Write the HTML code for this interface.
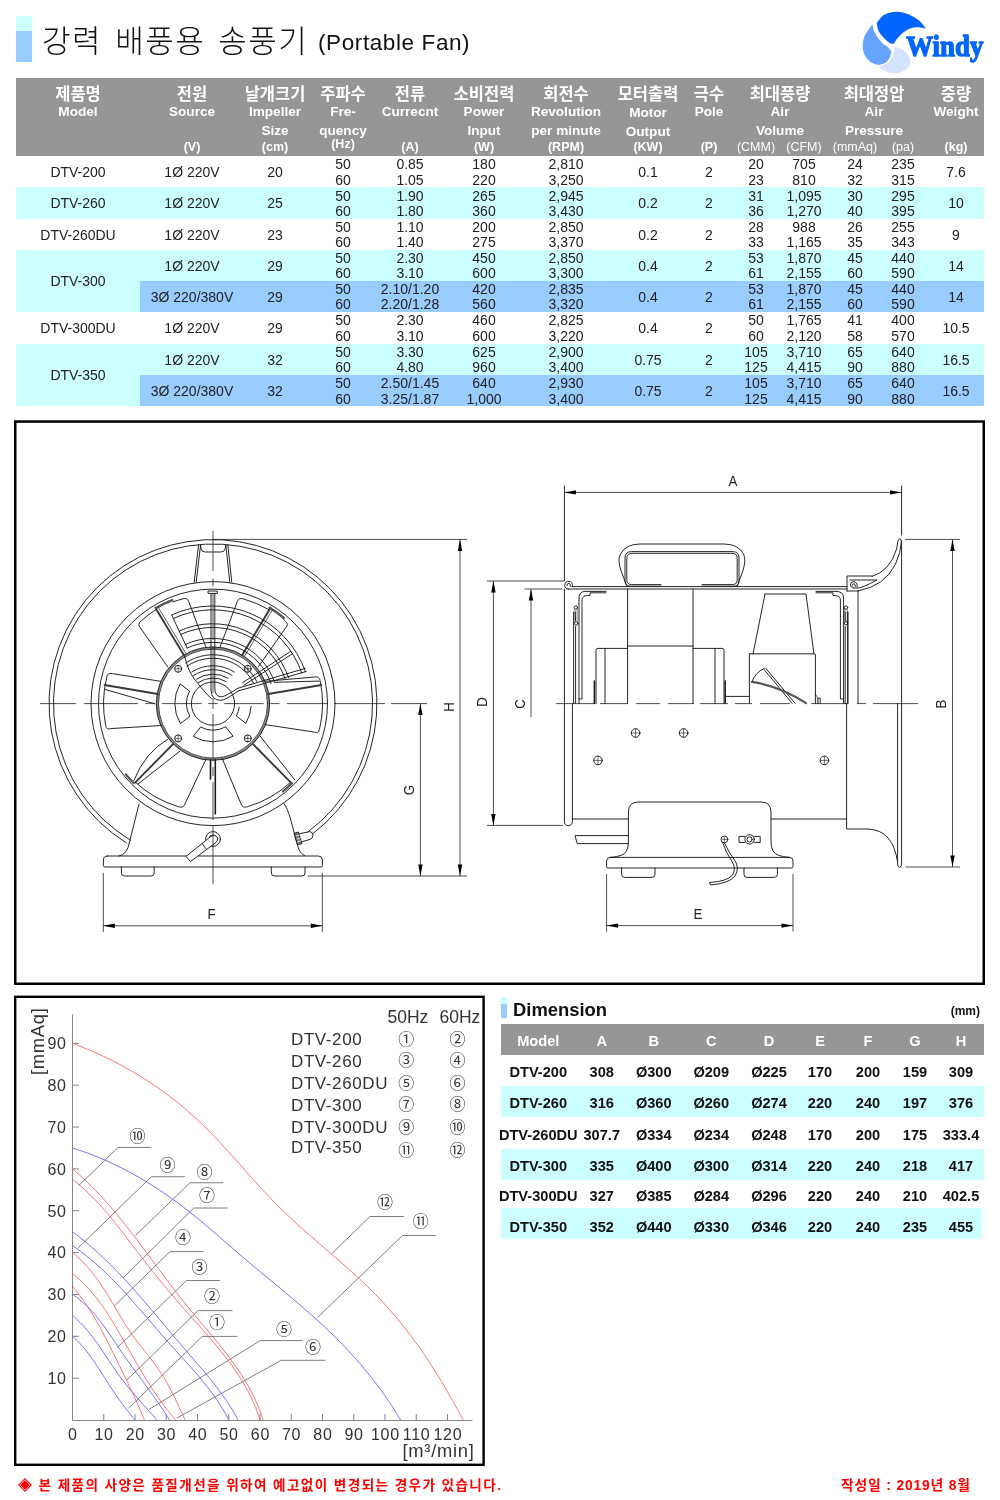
<!DOCTYPE html>
<html lang="ko"><head><meta charset="utf-8"><title>강력 배풍용 송풍기 (Portable Fan)</title>
<style>
html,body{margin:0;padding:0;background:#fff;}
body{width:1000px;height:1500px;overflow:hidden;}
#page{will-change:transform;position:relative;width:1000px;height:1500px;overflow:hidden;background:#fff;font-family:"Liberation Sans","Noto Sans CJK KR",sans-serif;color:#222;}
.abs{position:absolute;}
.c{position:absolute;text-align:center;white-space:nowrap;}
.t1 .c{font-size:14px;line-height:16px;height:16px;color:#222;}
.t1 .hd{color:#fff;font-weight:bold;}
.t1 .hk{font-size:16.5px;line-height:18px;height:18px;font-weight:700;}
.t1 .he{font-size:13.6px;line-height:15px;height:15px;}
.t1 .hu{font-size:12.5px;line-height:14px;height:14px;}
.t1 .hun{font-weight:normal;font-size:12.5px;}
.dt .c{font-size:14.6px;line-height:16px;height:16px;font-weight:bold;color:#111;}
.dt .h{color:#fff;}
svg text{font-family:"Liberation Sans","Noto Sans CJK KR",sans-serif;}

</style></head>
<body>
<div id="page">
<div class="abs" style="left:16px;top:16px;width:16px;height:15px;background:#ccffff"></div>
<div class="abs" style="left:16px;top:31px;width:16px;height:31px;background:#99ccff"></div>
<div class="abs" id="ttl" style="left:42px;top:20px;height:44px;line-height:44px;font-size:31px;font-weight:300;color:#111;white-space:nowrap;letter-spacing:1.5px;word-spacing:3px">강력 배풍용 송풍기</div>
<div class="abs" id="ttl2" style="left:318px;top:28px;height:30px;line-height:30px;font-size:22.5px;color:#111;white-space:nowrap;letter-spacing:0.6px">(Portable Fan)</div>
<svg class="abs" style="left:855px;top:5px" width="135" height="75" viewBox="855 5 135 75"><path d="M895.6 47.0 C895.6 47.0 900.5 48.4 902.6 49.8 C904.7 51.2 906.9 53.5 908.2 55.4 C909.5 57.3 910.2 59.1 910.3 61.0 C910.4 62.9 909.9 65.0 908.9 66.6 C907.9 68.2 906.0 69.7 904.0 70.8 C902.0 71.9 899.6 73.1 897.0 73.3 C894.4 73.5 891.2 73.0 888.6 72.2 C886.0 71.4 883.2 69.6 881.6 68.7 C880.0 67.8 878.8 66.6 878.8 66.6 C878.8 66.6 883.2 65.4 885.1 64.5 C887.0 63.6 888.7 62.5 890.0 61.0 C891.3 59.5 892.4 57.3 893.1 55.4 C893.8 53.5 893.8 51.2 894.2 49.8 C894.6 48.4 895.6 47.0 895.6 47.0Z" fill="#d3e2ff"/><path d="M873.2 22.5 C873.2 22.5 869.9 26.4 868.3 28.8 C866.7 31.2 864.4 34.2 863.4 37.2 C862.4 40.2 861.9 44.0 862.0 47.0 C862.1 50.0 862.9 52.9 864.1 55.4 C865.3 57.9 867.0 60.1 869.0 61.7 C871.0 63.3 873.7 64.7 876.0 65.2 C878.3 65.7 881.0 65.1 883.0 64.5 C885.0 63.9 886.6 63.0 887.9 61.7 C889.2 60.4 890.0 58.5 890.7 56.8 C891.4 55.0 892.1 51.2 892.1 51.2 C892.1 51.2 890.1 48.4 888.6 47.0 C887.1 45.6 884.9 44.7 883.0 42.8 C881.1 40.9 878.9 38.1 877.4 35.8 C875.9 33.5 874.6 31.0 873.9 28.8 C873.2 26.6 873.2 22.5 873.2 22.5Z" fill="#66a3ff" stroke="#fff" stroke-width="1.3"/><path d="M876.0 23.2 C876.0 23.2 880.2 16.8 883.0 14.8 C885.8 12.8 889.3 11.8 892.8 11.3 C896.3 10.8 900.5 11.2 904.0 12.0 C907.5 12.8 910.8 14.4 913.8 16.2 C916.8 17.9 920.0 20.2 922.2 22.5 C924.4 24.8 927.1 30.2 927.1 30.2 C927.1 30.2 923.0 28.5 920.8 28.1 C918.6 27.8 916.1 27.6 913.8 28.1 C911.5 28.6 908.9 29.7 906.8 30.9 C904.7 32.1 902.8 33.6 901.2 35.1 C899.6 36.6 898.2 38.4 897.0 40.0 C895.8 41.6 894.2 44.9 894.2 44.9 C894.2 44.9 891.2 44.7 889.3 43.5 C887.4 42.3 884.9 39.9 883.0 37.9 C881.1 35.9 879.3 34.1 878.1 31.6 C876.9 29.2 876.0 23.2 876.0 23.2Z" fill="#0066ff" stroke="#fff" stroke-width="1.3"/><circle cx="892.8" cy="45.8" r="2.4" fill="#fff"/><text x="906.3" y="56.2" style="font-family:'Liberation Serif',serif" font-weight="bold" font-size="29.5" fill="#0066ff" stroke="#0066ff" stroke-width="1.3" stroke-linejoin="round" textLength="77" lengthAdjust="spacingAndGlyphs">Windy</text></svg>
<div class="t1">
<div class="abs" style="left:16px;top:78px;width:968px;height:78px;background:#969696"></div>
<div class="abs" style="left:16px;top:187.25px;width:968px;height:31.25px;background:#ccffff"></div>
<div class="abs" style="left:16px;top:249.5px;width:968px;height:62.0px;background:#ccffff"></div>
<div class="abs" style="left:140px;top:280.5px;width:844px;height:31.0px;background:#99ccff"></div>
<div class="abs" style="left:16px;top:343.5px;width:968px;height:62.5px;background:#ccffff"></div>
<div class="abs" style="left:140px;top:375px;width:844px;height:31px;background:#99ccff"></div>
<div class="c hd hk" style="left:18.0px;top:84.50px;width:120px;">제품명</div>
<div class="c hd he" style="left:18.0px;top:104.00px;width:120px;">Model</div>
<div class="c hd hk" style="left:132.0px;top:84.50px;width:120px;">전원</div>
<div class="c hd he" style="left:132.0px;top:104.00px;width:120px;">Source</div>
<div class="c hd hu" style="left:132.0px;top:139.50px;width:120px;">(V)</div>
<div class="c hd hk" style="left:215.0px;top:84.50px;width:120px;">날개크기</div>
<div class="c hd he" style="left:215.0px;top:104.00px;width:120px;">Impeller</div>
<div class="c hd he" style="left:215.0px;top:122.50px;width:120px;">Size</div>
<div class="c hd hu" style="left:215.0px;top:140.00px;width:120px;">(cm)</div>
<div class="c hd hk" style="left:283.0px;top:84.50px;width:120px;">주파수</div>
<div class="c hd he" style="left:283.0px;top:104.00px;width:120px;">Fre-</div>
<div class="c hd he" style="left:283.0px;top:122.50px;width:120px;">quency</div>
<div class="c hd hu" style="left:283.0px;top:137.00px;width:120px;">(Hz)</div>
<div class="c hd hk" style="left:350.0px;top:84.50px;width:120px;">전류</div>
<div class="c hd he" style="left:350.0px;top:104.00px;width:120px;">Currecnt</div>
<div class="c hd hu" style="left:350.0px;top:139.50px;width:120px;">(A)</div>
<div class="c hd hk" style="left:424.0px;top:84.50px;width:120px;">소비전력</div>
<div class="c hd he" style="left:424.0px;top:104.00px;width:120px;">Power</div>
<div class="c hd he" style="left:424.0px;top:122.50px;width:120px;">Input</div>
<div class="c hd hu" style="left:424.0px;top:139.50px;width:120px;">(W)</div>
<div class="c hd hk" style="left:506.0px;top:84.50px;width:120px;">회전수</div>
<div class="c hd he" style="left:506.0px;top:104.00px;width:120px;">Revolution</div>
<div class="c hd he" style="left:506.0px;top:122.50px;width:120px;">per minute</div>
<div class="c hd hu" style="left:506.0px;top:139.50px;width:120px;">(RPM)</div>
<div class="c hd hk" style="left:588.0px;top:84.50px;width:120px;">모터출력</div>
<div class="c hd he" style="left:588.0px;top:105.00px;width:120px;">Motor</div>
<div class="c hd he" style="left:588.0px;top:123.50px;width:120px;">Output</div>
<div class="c hd hu" style="left:588.0px;top:139.50px;width:120px;">(KW)</div>
<div class="c hd hk" style="left:649.0px;top:84.50px;width:120px;">극수</div>
<div class="c hd he" style="left:649.0px;top:104.00px;width:120px;">Pole</div>
<div class="c hd hu" style="left:649.0px;top:139.50px;width:120px;">(P)</div>
<div class="c hd hk" style="left:896.0px;top:84.50px;width:120px;">중량</div>
<div class="c hd he" style="left:896.0px;top:104.00px;width:120px;">Weight</div>
<div class="c hd hu" style="left:896.0px;top:139.50px;width:120px;">(kg)</div>
<div class="c hd hk" style="left:720.0px;top:84.50px;width:120px;">최대풍량</div>
<div class="c hd he" style="left:720.0px;top:104.00px;width:120px;">Air</div>
<div class="c hd he" style="left:720.0px;top:122.50px;width:120px;">Volume</div>
<div class="c hd hk" style="left:814.0px;top:84.50px;width:120px;">최대정압</div>
<div class="c hd he" style="left:814.0px;top:104.00px;width:120px;">Air</div>
<div class="c hd he" style="left:814.0px;top:122.50px;width:120px;">Pressure</div>
<div class="c hd hu hun" style="left:696.0px;top:140.00px;width:120px;">(CMM)</div>
<div class="c hd hu hun" style="left:744.0px;top:140.00px;width:120px;">(CFM)</div>
<div class="c hd hu hun" style="left:795.0px;top:140.00px;width:120px;">(mmAq)</div>
<div class="c hd hu hun" style="left:843.0px;top:140.00px;width:120px;">(pa)</div>
<div class="c " style="left:18.0px;top:164.12px;width:120px;">DTV-200</div>
<div class="c " style="left:132.0px;top:164.12px;width:120px;">1Ø 220V</div>
<div class="c " style="left:215.0px;top:164.12px;width:120px;">20</div>
<div class="c " style="left:283.0px;top:156.32px;width:120px;">50</div>
<div class="c " style="left:283.0px;top:171.72px;width:120px;">60</div>
<div class="c " style="left:350.0px;top:156.32px;width:120px;">0.85</div>
<div class="c " style="left:350.0px;top:171.72px;width:120px;">1.05</div>
<div class="c " style="left:424.0px;top:156.32px;width:120px;">180</div>
<div class="c " style="left:424.0px;top:171.72px;width:120px;">220</div>
<div class="c " style="left:506.0px;top:156.32px;width:120px;">2,810</div>
<div class="c " style="left:506.0px;top:171.72px;width:120px;">3,250</div>
<div class="c " style="left:588.0px;top:164.12px;width:120px;">0.1</div>
<div class="c " style="left:649.0px;top:164.12px;width:120px;">2</div>
<div class="c " style="left:696.0px;top:156.32px;width:120px;">20</div>
<div class="c " style="left:696.0px;top:171.72px;width:120px;">23</div>
<div class="c " style="left:744.0px;top:156.32px;width:120px;">705</div>
<div class="c " style="left:744.0px;top:171.72px;width:120px;">810</div>
<div class="c " style="left:795.0px;top:156.32px;width:120px;">24</div>
<div class="c " style="left:795.0px;top:171.72px;width:120px;">32</div>
<div class="c " style="left:843.0px;top:156.32px;width:120px;">235</div>
<div class="c " style="left:843.0px;top:171.72px;width:120px;">315</div>
<div class="c " style="left:896.0px;top:164.12px;width:120px;">7.6</div>
<div class="c " style="left:18.0px;top:195.38px;width:120px;">DTV-260</div>
<div class="c " style="left:132.0px;top:195.38px;width:120px;">1Ø 220V</div>
<div class="c " style="left:215.0px;top:195.38px;width:120px;">25</div>
<div class="c " style="left:283.0px;top:187.57px;width:120px;">50</div>
<div class="c " style="left:283.0px;top:202.97px;width:120px;">60</div>
<div class="c " style="left:350.0px;top:187.57px;width:120px;">1.90</div>
<div class="c " style="left:350.0px;top:202.97px;width:120px;">1.80</div>
<div class="c " style="left:424.0px;top:187.57px;width:120px;">265</div>
<div class="c " style="left:424.0px;top:202.97px;width:120px;">360</div>
<div class="c " style="left:506.0px;top:187.57px;width:120px;">2,945</div>
<div class="c " style="left:506.0px;top:202.97px;width:120px;">3,430</div>
<div class="c " style="left:588.0px;top:195.38px;width:120px;">0.2</div>
<div class="c " style="left:649.0px;top:195.38px;width:120px;">2</div>
<div class="c " style="left:696.0px;top:187.57px;width:120px;">31</div>
<div class="c " style="left:696.0px;top:202.97px;width:120px;">36</div>
<div class="c " style="left:744.0px;top:187.57px;width:120px;">1,095</div>
<div class="c " style="left:744.0px;top:202.97px;width:120px;">1,270</div>
<div class="c " style="left:795.0px;top:187.57px;width:120px;">30</div>
<div class="c " style="left:795.0px;top:202.97px;width:120px;">40</div>
<div class="c " style="left:843.0px;top:187.57px;width:120px;">295</div>
<div class="c " style="left:843.0px;top:202.97px;width:120px;">395</div>
<div class="c " style="left:896.0px;top:195.38px;width:120px;">10</div>
<div class="c " style="left:18.0px;top:226.50px;width:120px;">DTV-260DU</div>
<div class="c " style="left:132.0px;top:226.50px;width:120px;">1Ø 220V</div>
<div class="c " style="left:215.0px;top:226.50px;width:120px;">23</div>
<div class="c " style="left:283.0px;top:218.70px;width:120px;">50</div>
<div class="c " style="left:283.0px;top:234.10px;width:120px;">60</div>
<div class="c " style="left:350.0px;top:218.70px;width:120px;">1.10</div>
<div class="c " style="left:350.0px;top:234.10px;width:120px;">1.40</div>
<div class="c " style="left:424.0px;top:218.70px;width:120px;">200</div>
<div class="c " style="left:424.0px;top:234.10px;width:120px;">275</div>
<div class="c " style="left:506.0px;top:218.70px;width:120px;">2,850</div>
<div class="c " style="left:506.0px;top:234.10px;width:120px;">3,370</div>
<div class="c " style="left:588.0px;top:226.50px;width:120px;">0.2</div>
<div class="c " style="left:649.0px;top:226.50px;width:120px;">2</div>
<div class="c " style="left:696.0px;top:218.70px;width:120px;">28</div>
<div class="c " style="left:696.0px;top:234.10px;width:120px;">33</div>
<div class="c " style="left:744.0px;top:218.70px;width:120px;">988</div>
<div class="c " style="left:744.0px;top:234.10px;width:120px;">1,165</div>
<div class="c " style="left:795.0px;top:218.70px;width:120px;">26</div>
<div class="c " style="left:795.0px;top:234.10px;width:120px;">35</div>
<div class="c " style="left:843.0px;top:218.70px;width:120px;">255</div>
<div class="c " style="left:843.0px;top:234.10px;width:120px;">343</div>
<div class="c " style="left:896.0px;top:226.50px;width:120px;">9</div>
<div class="c " style="left:18.0px;top:273.00px;width:120px;">DTV-300</div>
<div class="c " style="left:132.0px;top:257.50px;width:120px;">1Ø 220V</div>
<div class="c " style="left:215.0px;top:257.50px;width:120px;">29</div>
<div class="c " style="left:283.0px;top:249.70px;width:120px;">50</div>
<div class="c " style="left:283.0px;top:265.10px;width:120px;">60</div>
<div class="c " style="left:350.0px;top:249.70px;width:120px;">2.30</div>
<div class="c " style="left:350.0px;top:265.10px;width:120px;">3.10</div>
<div class="c " style="left:424.0px;top:249.70px;width:120px;">450</div>
<div class="c " style="left:424.0px;top:265.10px;width:120px;">600</div>
<div class="c " style="left:506.0px;top:249.70px;width:120px;">2,850</div>
<div class="c " style="left:506.0px;top:265.10px;width:120px;">3,300</div>
<div class="c " style="left:588.0px;top:257.50px;width:120px;">0.4</div>
<div class="c " style="left:649.0px;top:257.50px;width:120px;">2</div>
<div class="c " style="left:696.0px;top:249.70px;width:120px;">53</div>
<div class="c " style="left:696.0px;top:265.10px;width:120px;">61</div>
<div class="c " style="left:744.0px;top:249.70px;width:120px;">1,870</div>
<div class="c " style="left:744.0px;top:265.10px;width:120px;">2,155</div>
<div class="c " style="left:795.0px;top:249.70px;width:120px;">45</div>
<div class="c " style="left:795.0px;top:265.10px;width:120px;">60</div>
<div class="c " style="left:843.0px;top:249.70px;width:120px;">440</div>
<div class="c " style="left:843.0px;top:265.10px;width:120px;">590</div>
<div class="c " style="left:896.0px;top:257.50px;width:120px;">14</div>
<div class="c " style="left:132.0px;top:288.50px;width:120px;">3Ø 220/380V</div>
<div class="c " style="left:215.0px;top:288.50px;width:120px;">29</div>
<div class="c " style="left:283.0px;top:280.70px;width:120px;">50</div>
<div class="c " style="left:283.0px;top:296.10px;width:120px;">60</div>
<div class="c " style="left:350.0px;top:280.70px;width:120px;">2.10/1.20</div>
<div class="c " style="left:350.0px;top:296.10px;width:120px;">2.20/1.28</div>
<div class="c " style="left:424.0px;top:280.70px;width:120px;">420</div>
<div class="c " style="left:424.0px;top:296.10px;width:120px;">560</div>
<div class="c " style="left:506.0px;top:280.70px;width:120px;">2,835</div>
<div class="c " style="left:506.0px;top:296.10px;width:120px;">3,320</div>
<div class="c " style="left:588.0px;top:288.50px;width:120px;">0.4</div>
<div class="c " style="left:649.0px;top:288.50px;width:120px;">2</div>
<div class="c " style="left:696.0px;top:280.70px;width:120px;">53</div>
<div class="c " style="left:696.0px;top:296.10px;width:120px;">61</div>
<div class="c " style="left:744.0px;top:280.70px;width:120px;">1,870</div>
<div class="c " style="left:744.0px;top:296.10px;width:120px;">2,155</div>
<div class="c " style="left:795.0px;top:280.70px;width:120px;">45</div>
<div class="c " style="left:795.0px;top:296.10px;width:120px;">60</div>
<div class="c " style="left:843.0px;top:280.70px;width:120px;">440</div>
<div class="c " style="left:843.0px;top:296.10px;width:120px;">590</div>
<div class="c " style="left:896.0px;top:288.50px;width:120px;">14</div>
<div class="c " style="left:18.0px;top:320.00px;width:120px;">DTV-300DU</div>
<div class="c " style="left:132.0px;top:320.00px;width:120px;">1Ø 220V</div>
<div class="c " style="left:215.0px;top:320.00px;width:120px;">29</div>
<div class="c " style="left:283.0px;top:312.20px;width:120px;">50</div>
<div class="c " style="left:283.0px;top:327.60px;width:120px;">60</div>
<div class="c " style="left:350.0px;top:312.20px;width:120px;">2.30</div>
<div class="c " style="left:350.0px;top:327.60px;width:120px;">3.10</div>
<div class="c " style="left:424.0px;top:312.20px;width:120px;">460</div>
<div class="c " style="left:424.0px;top:327.60px;width:120px;">600</div>
<div class="c " style="left:506.0px;top:312.20px;width:120px;">2,825</div>
<div class="c " style="left:506.0px;top:327.60px;width:120px;">3,220</div>
<div class="c " style="left:588.0px;top:320.00px;width:120px;">0.4</div>
<div class="c " style="left:649.0px;top:320.00px;width:120px;">2</div>
<div class="c " style="left:696.0px;top:312.20px;width:120px;">50</div>
<div class="c " style="left:696.0px;top:327.60px;width:120px;">60</div>
<div class="c " style="left:744.0px;top:312.20px;width:120px;">1,765</div>
<div class="c " style="left:744.0px;top:327.60px;width:120px;">2,120</div>
<div class="c " style="left:795.0px;top:312.20px;width:120px;">41</div>
<div class="c " style="left:795.0px;top:327.60px;width:120px;">58</div>
<div class="c " style="left:843.0px;top:312.20px;width:120px;">400</div>
<div class="c " style="left:843.0px;top:327.60px;width:120px;">570</div>
<div class="c " style="left:896.0px;top:320.00px;width:120px;">10.5</div>
<div class="c " style="left:18.0px;top:367.25px;width:120px;">DTV-350</div>
<div class="c " style="left:132.0px;top:351.75px;width:120px;">1Ø 220V</div>
<div class="c " style="left:215.0px;top:351.75px;width:120px;">32</div>
<div class="c " style="left:283.0px;top:343.95px;width:120px;">50</div>
<div class="c " style="left:283.0px;top:359.35px;width:120px;">60</div>
<div class="c " style="left:350.0px;top:343.95px;width:120px;">3.30</div>
<div class="c " style="left:350.0px;top:359.35px;width:120px;">4.80</div>
<div class="c " style="left:424.0px;top:343.95px;width:120px;">625</div>
<div class="c " style="left:424.0px;top:359.35px;width:120px;">960</div>
<div class="c " style="left:506.0px;top:343.95px;width:120px;">2,900</div>
<div class="c " style="left:506.0px;top:359.35px;width:120px;">3,400</div>
<div class="c " style="left:588.0px;top:351.75px;width:120px;">0.75</div>
<div class="c " style="left:649.0px;top:351.75px;width:120px;">2</div>
<div class="c " style="left:696.0px;top:343.95px;width:120px;">105</div>
<div class="c " style="left:696.0px;top:359.35px;width:120px;">125</div>
<div class="c " style="left:744.0px;top:343.95px;width:120px;">3,710</div>
<div class="c " style="left:744.0px;top:359.35px;width:120px;">4,415</div>
<div class="c " style="left:795.0px;top:343.95px;width:120px;">65</div>
<div class="c " style="left:795.0px;top:359.35px;width:120px;">90</div>
<div class="c " style="left:843.0px;top:343.95px;width:120px;">640</div>
<div class="c " style="left:843.0px;top:359.35px;width:120px;">880</div>
<div class="c " style="left:896.0px;top:351.75px;width:120px;">16.5</div>
<div class="c " style="left:132.0px;top:383.00px;width:120px;">3Ø 220/380V</div>
<div class="c " style="left:215.0px;top:383.00px;width:120px;">32</div>
<div class="c " style="left:283.0px;top:375.20px;width:120px;">50</div>
<div class="c " style="left:283.0px;top:390.60px;width:120px;">60</div>
<div class="c " style="left:350.0px;top:375.20px;width:120px;">2.50/1.45</div>
<div class="c " style="left:350.0px;top:390.60px;width:120px;">3.25/1.87</div>
<div class="c " style="left:424.0px;top:375.20px;width:120px;">640</div>
<div class="c " style="left:424.0px;top:390.60px;width:120px;">1,000</div>
<div class="c " style="left:506.0px;top:375.20px;width:120px;">2,930</div>
<div class="c " style="left:506.0px;top:390.60px;width:120px;">3,400</div>
<div class="c " style="left:588.0px;top:383.00px;width:120px;">0.75</div>
<div class="c " style="left:649.0px;top:383.00px;width:120px;">2</div>
<div class="c " style="left:696.0px;top:375.20px;width:120px;">105</div>
<div class="c " style="left:696.0px;top:390.60px;width:120px;">125</div>
<div class="c " style="left:744.0px;top:375.20px;width:120px;">3,710</div>
<div class="c " style="left:744.0px;top:390.60px;width:120px;">4,415</div>
<div class="c " style="left:795.0px;top:375.20px;width:120px;">65</div>
<div class="c " style="left:795.0px;top:390.60px;width:120px;">90</div>
<div class="c " style="left:843.0px;top:375.20px;width:120px;">640</div>
<div class="c " style="left:843.0px;top:390.60px;width:120px;">880</div>
<div class="c " style="left:896.0px;top:383.00px;width:120px;">16.5</div>
</div>
<svg class="abs" style="left:0;top:415px" width="1000" height="575" viewBox="0 415 1000 575">
<rect x="15.25" y="421.55" width="968.5" height="562.2" fill="none" stroke="#000" stroke-width="2.5"/>
<g fill="none" stroke="#1a1a1a" stroke-width="0.95" stroke-linecap="round" stroke-linejoin="round">
<path d="M126.1 842.7 A164 164 0 1 1 313.1 833.5"/>
<path d="M130.8 840.4 A159.6 159.6 0 1 1 307.7 832.1"/>
<path d="M294.4 833.2 L298.4 832 L302 843.6 L298 844.8 Z" fill="#777" stroke-width="0.9"/>
<path d="M295.3 836.2 L299.3 835 M296.3 839.2 L300.3 838 M297.2 842 L301.2 840.8" stroke="#fff" stroke-width="0.8"/>
<path d="M299 833.9 L309.5 831.6 Q312.6 831.6 313 835.2 Q313.2 838.4 310 839.4 L301.3 842"/>
<circle cx="213.0" cy="703.6" r="122"/><circle cx="213.0" cy="703.6" r="114.5"/>
<path d="M198.6 544.6 L194.2 582.2 M200.6 544.8 L196.2 582 M225.8 544.8 L229.8 582 M227.8 544.6 L231.8 582.2 M200.6 544.8 L201 548.6 Q201.5 552 205.2 552 H221 Q224.6 552 225.2 548.6 L225.8 544.8"/>
<circle cx="213.0" cy="703.6" r="55.6" stroke-width="2.2" stroke="#8a8a8a"/><circle cx="213.0" cy="703.6" r="56.7" stroke-width="0.9"/><circle cx="213.0" cy="703.6" r="54.5" stroke-width="0.8"/>
<circle cx="213.0" cy="703.6" r="21.6"/>
<path d="M180.2 723.3 A38.3 38.3 0 0 1 180.2 683.9 L189.6 691.2 A26.5 26.5 0 0 0 189.6 716.0 Z M232.7 736.4 A38.3 38.3 0 0 1 193.3 736.4 L200.6 727.0 A26.5 26.5 0 0 0 225.4 727.0 Z"/>
<path d="M251.2 706.3 A38.3 38.3 0 0 1 245.8 723.3 L236.4 716.0 A26.5 26.5 0 0 0 239.2 707.3"/>
<circle cx="247.8" cy="738.4" r="3.5"/><path d="M244.3 738.4 h7 M247.8 734.9 v7" stroke-width="0.6"/>
<circle cx="178.2" cy="738.4" r="3.5"/><path d="M174.7 738.4 h7 M178.2 734.9 v7" stroke-width="0.6"/>
<circle cx="178.2" cy="668.8" r="3.5"/><path d="M174.7 668.8 h7 M178.2 665.3 v7" stroke-width="0.6"/>
<circle cx="247.8" cy="668.8" r="3.5"/><path d="M244.3 668.8 h7 M247.8 665.3 v7" stroke-width="0.6"/>
<path d="M160.5 681.3 L112.4 673.6 Q107.5 672.4 106.8 677.1 A109.5 109.5 0 0 0 105.7 725.4 Q106.3 730.2 110.5 728.6 L161.5 725.5"/>
<path d="M157.8 694.1 L104.6 684.9" stroke-width="2.0" stroke="#3a3a3a"/>
<path d="M104.9 689.4 L155.0 703.8"/>
<path d="M173.0 744.2 L135.1 782.6" stroke-width="1.9" stroke="#3a3a3a"/>
<path d="M168.0 739.0 Q144.9 752.5 133.8 780.6"/>
<path d="M138.0 784.0 L180.0 751.1"/>
<path d="M135.4 782.3 A109 109 0 0 0 178.5 806.7 Q183.3 808.5 185.0 803.8 L206.2 758.8"/>
<path d="M133.6 783.0 A112.3 112.3 0 0 1 125.7 774.3" stroke-width="2.2" stroke="#555"/>
<path d="M183.8 655.1 L155.4 607.8" stroke-width="1.9" stroke="#3a3a3a"/>
<path d="M156.6 607.8 A111.2 111.2 0 0 1 172.2 600.1" stroke-width="2.4" stroke="#555"/>
<path d="M186.1 653.8 L157.9 606.7" stroke-width="0.7"/>
<path d="M155.7 609.7 A110 110 0 0 0 141.2 621.0 Q137.0 624.1 140.3 627.8 L167.9 667.1"/>
<path d="M172.9 601.9 A109 109 0 0 1 182.0 599.1 Q187.4 597.1 188.7 601.5 L206.1 647.5"/>
<path d="M265.5 681.3 L314.6 677.0 Q319.4 675.9 320.1 680.6 A109.5 109.5 0 0 1 319.5 729.2 Q318.7 733.9 314.6 732.1 L264.9 724.6"/>
<path d="M268.2 694.1 L321.4 684.9" stroke-width="2.0" stroke="#3a3a3a"/>
<path d="M274.8 682.3 L319.0 681.1"/>
<path d="M253.0 744.2 L290.9 782.6" stroke-width="1.9" stroke="#3a3a3a"/>
<path d="M260.2 736.2 L294.9 780.0"/>
<path d="M290.6 782.3 A109 109 0 0 1 247.5 806.7 Q242.7 808.5 241.0 803.8 L222.2 758.4"/>
<path d="M282.9 791.5 A112.3 112.3 0 0 0 292.1 783.3" stroke-width="2.2" stroke="#555"/>
<path d="M242.2 655.1 L270.6 607.8" stroke-width="1.9" stroke="#3a3a3a"/>
<path d="M283.7 617.8 A111.2 111.2 0 0 0 269.4 607.8" stroke-width="2.4" stroke="#555"/>
<path d="M244.3 656.5 L272.7 609.5" stroke-width="0.7"/>
<path d="M283.0 618.7 A110 110 0 0 1 285.8 621.9 Q289.0 624.1 285.7 627.8 L258.1 667.1"/>
<path d="M268.6 609.5 A109 109 0 0 0 244.0 599.1 Q238.6 597.1 237.3 601.5 L219.9 647.5"/>
<path d="M210.5 760 V779" stroke-width="1.6"/><path d="M215.3 760 V814" stroke-width="1.6"/>
<path d="M171.7 615.0 A97.8 97.8 0 0 1 305.5 671.8"/><path d="M173.3 618.5 A93.9 93.9 0 0 1 301.8 673.0"/>
<path d="M179.2 631.1 A80 80 0 0 1 288.6 677.6"/><path d="M180.8 634.4 A76.3 76.3 0 0 1 285.1 678.8"/>
<path d="M185.4 644.4 A65.3 65.3 0 0 1 274.7 682.3"/><path d="M187.1 648.0 A61.4 61.4 0 0 1 271.1 683.6"/>
<path d="M185.6 663.0 A49 49 0 0 1 256.7 681.4"/><path d="M186.9 666.3 A45.5 45.5 0 0 1 253.5 682.9"/>
<path d="M191.8 672.1 A38 38 0 0 1 234.2 672.1"/><path d="M193.5 675.7 A34 34 0 0 1 232.0 675.4"/>
<path d="M196.5 679.1 A29.5 29.5 0 0 1 227.8 678.1"/><path d="M198.3 682.6 A25.6 25.6 0 0 1 225.8 681.4"/>
<path d="M187.1 648.0 L171.7 615.0"/>
<path d="M242.4 682.8 L290.6 651.5 M243.9 685.2 L292.2 653.9"/>
<path d="M184.2 655.6 L188.2 667.8 Q190.5 674 193.8 678.2 Q199 685 203.4 690.2 Q208 696 211.5 698.5"/>
<path d="M208.4 591 h9 v2.4 h-9 z"/>
<path d="M211 593.4 V690 Q211.4 700.5 221 700.3 Q226 700 238 691 L306.2 671.5 M214.8 593.4 V688 Q214.8 697 221.5 696.8 Q225.5 696.5 237.9 688.2 L305.2 668.4"/>
<path d="M139 804 L129.5 842 Q127.5 854.5 119 856"/>
<path d="M284 803.6 Q287.5 808 290.8 820 L297.6 845.6 Q299.6 853.5 304.5 855.6"/>
<path d="M107.5 856 H318.5 Q322.4 856 322.4 860 V865.5 Q322.4 867 321 867 H105 Q103.4 867 103.4 865.5 V860 Q103.4 856 107.5 856 Z"/>
<path d="M121.4 867 V873 Q121.4 876 124.5 876 H151 Q154.2 876 154.2 873 V867 M271.3 867 V873 Q271.3 876 274.5 876 H302 Q305 876 305 873 V867"/>
<circle cx="213" cy="839" r="7.4"/><circle cx="213" cy="839" r="4"/>
<path d="M211 836.3 L186 856.5 L190.5 861.5 L216 842.5 Q219.5 838.5 216 836 Q213.5 834.5 211 836.3 Z" fill="#fff"/><path d="M202 843.5 L206.5 849.5"/>
</g>
<g fill="none" stroke="#222" stroke-width="0.8">
<path d="M40 703.6 H76 M84 703.6 H138 M145 703.6 H154.6 M161.8 703.6 H201.8 M208.2 703.6 H217.8 M224.2 703.6 H263.6 M270.8 703.6 H279.3 M287 703.6 H327 M334.3 703.6 H385 M391 703.6 H427"/>
<path d="M213.0 531 V571 M213.0 578.4 V586.4 M213.0 593 V640 M213.0 647 V693 M213.0 698 V709 M213.0 714 V760 M213.0 767 V776 M213.0 782 V820 M213.0 826 V884"/>
</g>
<g fill="none" stroke="#1a1a1a" stroke-width="0.95" stroke-linecap="round" stroke-linejoin="round">
<path d="M627 586.5 L621.5 572 Q617 560 620.5 554 Q626 544 640 544 H724 Q738 544 743.5 554 Q746.5 560 742.5 572 L737 586.5"/>
<path d="M661 586.2 H630 Q625 586 625 581 V558 Q625 551.6 631.5 551.6 H732.5 Q739 551.6 739 558 V581 Q739 586 734 586.2 H702"/>
<path d="M661 584.6 H631.5 Q626.8 584.5 626.8 580 V558.5 Q626.8 553.3 632 553.3 H732 Q737.2 553.3 737.2 558.5 V580 Q737.2 584.5 732.5 584.6 H702"/>
<path d="M572 586.6 H847 M568 589 H847"/>
<path d="M572.5 586.4 Q572.8 581.5 569 581.3 Q565 581.2 564.8 585.5 Q564.8 589 568.5 589 M570.5 586.4 Q570.6 583.3 568.8 583.3 Q567 583.4 567 585.3"/>
<path d="M564.4 486 V581 M564.4 589 V821.5 Q564.6 825.6 568.4 825.6 Q572.2 825.6 572.4 821.5 V703.6"/>
<path d="M606 591.4 H585 Q579 591.6 579 598 V703.6 M606 592.8 H590 V595.5 H587.5 Q582 595.8 582 600 V699 H579"/>
<path d="M573.6 612 V703.6 M575.6 612 V620.5 M575.6 626.5 V703.6"/><circle cx="575.8" cy="607.6" r="1.7"/><circle cx="576.2" cy="623.5" r="1.7"/><path d="M574.8 609 V622 M577.2 609 V622" stroke-width="0.5"/>
<path d="M627.6 589 V703.6 M693 589 V703.6 M627.6 646 H693"/>
<path d="M596 703.6 V650.5 Q596 648.4 598 648.4 H627.6 M693 648.4 H722 Q724 648.4 724 650.5 V703.6 M605 648.4 V703.6 M715 648.4 V703.6"/>
<path d="M594.4 681 V703.6 M725.2 681 V703.6" stroke-width="1.5"/>
<path d="M725.2 696.4 H749.4"/>
<path d="M765 594 H806 L814 654 M765 594 L753 654 M749.4 653.8 H814.4 Q815.4 653.8 815.4 655 V703.6 M749.4 653.8 V703.6"/>
<path d="M752 681.4 Q755.5 672.5 764.3 668.2 M764 669.4 L792.2 703.4 M765.8 668.4 L795.2 703.4"/>
<path d="M752 681.9 Q780.5 686.3 806 703.2" stroke-width="2.1" stroke="#555"/>
<path d="M815.4 694 L817.4 697.5 V703.6 M817.4 698.2 H820.4 V703.6 M818.9 698.2 V703.6" stroke-width="0.7"/>
<path d="M816 591.4 H836 Q843.6 591.6 843.6 598 V703.6 M816 592.8 H833 V595.5 H835 Q840.4 595.8 840.4 600 V699 H843.6"/>
<path d="M845.2 612 V620.5 M845.2 626.5 V703.6"/><path d="M847.8 612 V703.6" stroke-width="1.4"/><circle cx="846" cy="607.6" r="1.7"/><circle cx="846" cy="623.2" r="1.7"/><path d="M844.8 609 V622 M847.2 609 V622" stroke-width="0.5"/>
<path d="M858 591 V703.6"/>
<path d="M847 591 V576 H872 M847 591 H858 M850 580 H877 Q862 588 858 588 L853 588"/>
<path d="M857.2 586.8 Q857.4 581.8 853.8 581.6 Q850.4 581.7 850.4 585 Q850.6 587.6 853 587.4 M855.3 586.6 Q855.3 583.6 853.8 583.6 Q852.4 583.8 852.5 585.2"/>
<path d="M872 576.5 Q890 571 896.6 549 L897.9 541.2 Q898.3 538.8 899.8 538.8 Q901.4 538.9 901.4 541.5 Q901 552 895.5 564 Q885 586 858 591"/>
<path d="M901.6 486 V535 M901.6 541 V703.6 M901.6 703.6 V864.5 Q901.4 867.3 899.6 867.3 Q897.8 867.3 897.6 864.5 V703.6"/>
<path d="M846.6 703.6 V829 H868 Q893 830 897.6 862"/>
<path d="M572.4 819 H628.4 M771 819 H846.6"/>
<circle cx="635.6" cy="733" r="4.3"/><path d="M631.3000000000001 733 h8.6 M635.6 728.7 v8.6" stroke-width="0.6"/>
<circle cx="683.6" cy="733" r="4.3"/><path d="M679.3000000000001 733 h8.6 M683.6 728.7 v8.6" stroke-width="0.6"/>
<circle cx="598" cy="760.4" r="4.3"/><path d="M593.7 760.4 h8.6 M598 756.1 v8.6" stroke-width="0.6"/>
<circle cx="824.4" cy="760.4" r="4.3"/><path d="M820.1 760.4 h8.6 M824.4 756.1 v8.6" stroke-width="0.6"/>
<path d="M610.5 857.4 Q624 856.5 626.5 851 Q628.4 847 628.4 842 V812 Q628.4 802 638.4 802 H761 Q771 802 771 812 V842 Q771 847 773 851 Q776 856.5 789.5 857.4"/>
<path d="M610 857.4 H789.5 Q793 857.4 793 861 V866.5 Q793 868 791.5 868 H608 Q606.6 868 606.6 866.5 V861 Q606.6 857.4 610 857.4 Z"/>
<path d="M621.6 868 V874.4 Q621.6 877.4 624.6 877.4 H652 Q655 877.4 655 874.4 V868 M744 868 V874.4 Q744 877.4 747 877.4 H774.4 Q777.4 877.4 777.4 874.4 V868"/>
<path d="M628.4 835.6 H575 L577.2 843.6 H628.4"/>
<circle cx="724.4" cy="839.4" r="3.4"/><path d="M722.2 839.4 h4.4 M724.4 837.2 v4.4" stroke-width="0.6"/>
<path d="M724.5 843 Q729 853 734.5 860 Q740 868 735 876 Q729 883.5 710.5 885 L709.5 882.5 Q727 881.5 732.5 875 Q736.5 868.5 732 861.5 Q726 853 722.6 842.5"/>
<circle cx="749.6" cy="839.4" r="4.7"/><circle cx="749.6" cy="839.4" r="2.6"/><path d="M745 836.4 H739 V842.4 H745 M754.2 836.4 H760.2 V842.4 H754.2"/>
</g>
<g fill="none" stroke="#222" stroke-width="0.8">
<path d="M556 703.6 H594 M600 703.6 H628 M636 703.6 H660 M668 703.6 H694 M700 703.6 H728 M735 703.6 H752 M760 703.6 H790 M811 703.6 H848 M857 703.6 H866 M873 703.6 H918"/>
</g>
<g fill="none" stroke="#222" stroke-width="0.8">
<path d="M564.4 492.4 H901.6"/><path d="M564.4 492.4 l11.5 -2.2 v4.4 z" fill="#000" stroke="none"/><path d="M901.6 492.4 l-11.5 -2.2 v4.4 z" fill="#000" stroke="none"/>
<path d="M905 539.4 H960 M905.6 867 H960 M952.5 539.4 V867"/><path d="M952.5 539.4 l-2.2 11.5 h4.4 z" fill="#000" stroke="none"/><path d="M952.5 867 l-2.2 -11.5 h4.4 z" fill="#000" stroke="none"/>
<path d="M213 539.4 H467 M308 876 H467 M460 539.4 V876"/><path d="M460 539.4 l-2.2 11.5 h4.4 z" fill="#000" stroke="none"/><path d="M460 876 l-2.2 -11.5 h4.4 z" fill="#000" stroke="none"/>
<path d="M420.4 703.6 V876"/><path d="M420.4 703.6 l-2.2 11.5 h4.4 z" fill="#000" stroke="none"/><path d="M420.4 876 l-2.2 -11.5 h4.4 z" fill="#000" stroke="none"/>
<path d="M487 581 H564 M487 825.4 H563 M493.4 581 V825.4"/><path d="M493.4 581 l-2.2 11.5 h4.4 z" fill="#000" stroke="none"/><path d="M493.4 825.4 l-2.2 -11.5 h4.4 z" fill="#000" stroke="none"/>
<path d="M524.4 589 H562 M531 589 V717"/><path d="M531 589 l-2.2 11.5 h4.4 z" fill="#000" stroke="none"/>
<path d="M103.3 873 V932 M322.3 873 V932 M103.3 925.8 H322.3"/><path d="M103.3 925.8 l11.5 -2.2 v4.4 z" fill="#000" stroke="none"/><path d="M322.3 925.8 l-11.5 -2.2 v4.4 z" fill="#000" stroke="none"/>
<path d="M606.6 874 V931.6 M793 874 V931.6 M606.6 925.6 H793"/><path d="M606.6 925.6 l11.5 -2.2 v4.4 z" fill="#000" stroke="none"/><path d="M793 925.6 l-11.5 -2.2 v4.4 z" fill="#000" stroke="none"/>
</g>
<g font-size="15.5" fill="#222" text-anchor="middle">
<text transform="translate(733,485.6) scale(0.86,1)">A</text>
<text transform="translate(698,918.6) scale(0.86,1)">E</text>
<text transform="translate(211.6,918.6) scale(0.86,1)">F</text>
<text transform="translate(945.6,704) rotate(-90) scale(0.86,1)">B</text>
<text transform="translate(453.6,707) rotate(-90) scale(0.86,1)">H</text>
<text transform="translate(486.6,702) rotate(-90) scale(0.86,1)">D</text>
<text transform="translate(524.6,704) rotate(-90) scale(0.86,1)">C</text>
<text transform="translate(413.6,790) rotate(-90) scale(0.86,1)">G</text>
</g>
</svg>
<svg class="abs" style="left:0;top:990px" width="500" height="480" viewBox="0 990 500 480">
<rect x="15.2" y="996.8" width="468.4" height="468" fill="none" stroke="#000" stroke-width="2.4"/>
<g stroke="#858585" stroke-width="1" fill="none">
<path d="M72.5 1014.5 V1420.5 H472.5"/>
<path d="M72.5 1378.15 h6.5"/>
<path d="M72.5 1336.30 h6.5"/>
<path d="M72.5 1294.45 h6.5"/>
<path d="M72.5 1252.60 h6.5"/>
<path d="M72.5 1210.75 h6.5"/>
<path d="M72.5 1168.90 h6.5"/>
<path d="M72.5 1127.05 h6.5"/>
<path d="M72.5 1085.20 h6.5"/>
<path d="M72.5 1043.35 h6.5"/>
<path d="M103.75 1420.5 v-6.5"/>
<path d="M135.00 1420.5 v-6.5"/>
<path d="M166.25 1420.5 v-6.5"/>
<path d="M197.50 1420.5 v-6.5"/>
<path d="M228.75 1420.5 v-6.5"/>
<path d="M260.00 1420.5 v-6.5"/>
<path d="M291.25 1420.5 v-6.5"/>
<path d="M322.50 1420.5 v-6.5"/>
<path d="M353.75 1420.5 v-6.5"/>
<path d="M385.00 1420.5 v-6.5"/>
<path d="M416.25 1420.5 v-6.5"/>
<path d="M447.50 1420.5 v-6.5"/>
</g>
<g fill="none" stroke-width="0.9">
<path stroke="#6464ff" d="M72.5 1336.3 C73.0 1336.8 74.7 1338.2 75.7 1339.2 C76.7 1340.2 77.7 1341.2 78.7 1342.2 C79.7 1343.2 80.6 1344.2 81.6 1345.3 C82.5 1346.3 83.4 1347.4 84.3 1348.4 C85.2 1349.5 86.1 1350.6 86.9 1351.7 C87.8 1352.8 88.6 1353.9 89.4 1355.0 C90.3 1356.1 91.1 1357.2 91.9 1358.3 C92.7 1359.4 93.4 1360.6 94.2 1361.7 C95.0 1362.9 95.8 1364.0 96.5 1365.2 C97.3 1366.3 98.0 1367.5 98.8 1368.6 C99.5 1369.8 100.3 1371.0 101.0 1372.1 C101.8 1373.3 102.5 1374.5 103.3 1375.7 C104.0 1376.8 104.7 1378.0 105.5 1379.2 C106.2 1380.4 107.0 1381.6 107.8 1382.7 C108.5 1383.9 109.3 1385.1 110.1 1386.3 C110.8 1387.5 111.6 1388.6 112.4 1389.8 C113.2 1391.0 114.0 1392.2 114.8 1393.3 C115.6 1394.5 116.4 1395.6 117.2 1396.8 C118.0 1398.0 118.8 1399.1 119.6 1400.3 C120.5 1401.4 121.3 1402.6 122.1 1403.7 C123.0 1404.8 123.8 1405.9 124.6 1407.1 C125.5 1408.2 126.3 1409.3 127.2 1410.4 C128.0 1411.5 128.9 1412.6 129.8 1413.7 C130.6 1414.7 131.5 1415.8 132.4 1416.9 C133.2 1417.9 134.6 1419.5 135.0 1420.0"/>
<path stroke="#6464ff" d="M72.5 1315.4 C73.2 1316.0 75.3 1317.8 76.6 1319.0 C77.9 1320.3 79.2 1321.5 80.5 1322.8 C81.7 1324.1 82.9 1325.4 84.1 1326.7 C85.3 1328.1 86.5 1329.4 87.6 1330.8 C88.8 1332.2 89.9 1333.5 91.0 1334.9 C92.1 1336.3 93.1 1337.8 94.2 1339.2 C95.3 1340.6 96.3 1342.0 97.3 1343.5 C98.4 1344.9 99.4 1346.4 100.4 1347.9 C101.4 1349.3 102.4 1350.8 103.4 1352.3 C104.4 1353.7 105.4 1355.2 106.3 1356.7 C107.3 1358.2 108.3 1359.7 109.3 1361.2 C110.3 1362.7 111.3 1364.1 112.3 1365.6 C113.3 1367.1 114.3 1368.6 115.4 1370.1 C116.4 1371.5 117.4 1373.0 118.5 1374.5 C119.5 1375.9 120.6 1377.4 121.7 1378.8 C122.8 1380.3 123.9 1381.7 125.0 1383.1 C126.1 1384.6 127.3 1386.0 128.4 1387.4 C129.6 1388.8 130.7 1390.2 131.9 1391.6 C133.1 1393.0 134.3 1394.4 135.4 1395.8 C136.6 1397.2 137.8 1398.5 139.0 1399.9 C140.2 1401.3 141.4 1402.6 142.6 1404.0 C143.8 1405.3 145.0 1406.7 146.2 1408.0 C147.4 1409.4 148.6 1410.7 149.8 1412.1 C151.0 1413.4 152.2 1414.7 153.4 1416.0 C154.5 1417.4 156.3 1419.3 156.9 1420.0"/>
<path stroke="#6464ff" d="M72.5 1294.5 C73.4 1295.1 76.1 1296.9 77.8 1298.2 C79.5 1299.5 81.1 1300.9 82.7 1302.3 C84.3 1303.7 85.9 1305.1 87.4 1306.6 C88.9 1308.1 90.3 1309.6 91.8 1311.1 C93.2 1312.7 94.6 1314.2 95.9 1315.8 C97.3 1317.4 98.6 1319.1 99.9 1320.7 C101.1 1322.4 102.4 1324.1 103.7 1325.8 C104.9 1327.5 106.1 1329.2 107.3 1330.9 C108.6 1332.6 109.7 1334.4 110.9 1336.1 C112.1 1337.9 113.3 1339.6 114.5 1341.4 C115.7 1343.2 116.9 1344.9 118.0 1346.7 C119.2 1348.5 120.4 1350.3 121.6 1352.0 C122.8 1353.8 124.0 1355.5 125.3 1357.3 C126.5 1359.1 127.7 1360.8 129.0 1362.5 C130.2 1364.3 131.5 1366.0 132.7 1367.8 C134.0 1369.5 135.3 1371.2 136.5 1372.9 C137.8 1374.7 139.1 1376.4 140.4 1378.1 C141.6 1379.8 142.9 1381.6 144.2 1383.3 C145.4 1385.0 146.7 1386.7 148.0 1388.5 C149.2 1390.2 150.5 1391.9 151.7 1393.7 C153.0 1395.4 154.2 1397.1 155.4 1398.9 C156.7 1400.6 157.9 1402.3 159.1 1404.1 C160.3 1405.8 161.5 1407.6 162.6 1409.3 C163.8 1411.1 164.9 1412.9 166.1 1414.6 C167.2 1416.4 168.8 1419.1 169.4 1420.0"/>
<path stroke="#6464ff" d="M72.5 1245.5 C73.8 1246.4 77.7 1249.1 80.2 1251.0 C82.7 1252.8 85.2 1254.8 87.6 1256.7 C90.1 1258.7 92.5 1260.7 94.8 1262.8 C97.2 1264.8 99.5 1266.9 101.8 1269.0 C104.1 1271.1 106.3 1273.3 108.6 1275.5 C110.8 1277.7 113.0 1279.9 115.1 1282.1 C117.3 1284.4 119.5 1286.6 121.6 1288.9 C123.7 1291.2 125.8 1293.5 127.9 1295.8 C130.0 1298.2 132.1 1300.5 134.2 1302.9 C136.3 1305.2 138.3 1307.6 140.4 1310.0 C142.4 1312.3 144.5 1314.7 146.5 1317.1 C148.6 1319.5 150.6 1321.9 152.7 1324.3 C154.7 1326.7 156.8 1329.1 158.8 1331.5 C160.9 1333.8 162.9 1336.2 165.0 1338.6 C167.1 1341.0 169.2 1343.3 171.3 1345.7 C173.4 1348.0 175.5 1350.4 177.6 1352.7 C179.8 1355.0 181.9 1357.4 184.0 1359.7 C186.1 1362.0 188.2 1364.4 190.3 1366.7 C192.4 1369.1 194.5 1371.4 196.6 1373.8 C198.6 1376.2 200.7 1378.5 202.6 1381.0 C204.6 1383.4 206.6 1385.8 208.5 1388.3 C210.4 1390.8 212.3 1393.3 214.1 1395.8 C215.9 1398.4 217.7 1401.0 219.4 1403.6 C221.1 1406.2 222.7 1408.9 224.3 1411.6 C225.9 1414.4 228.0 1418.6 228.8 1420.0"/>
<path stroke="#6464ff" d="M72.5 1231.7 C73.8 1232.7 77.9 1235.7 80.5 1237.8 C83.2 1239.9 85.8 1242.0 88.3 1244.2 C90.9 1246.4 93.4 1248.6 95.9 1250.8 C98.4 1253.1 100.9 1255.3 103.3 1257.6 C105.7 1259.9 108.1 1262.3 110.5 1264.6 C112.8 1267.0 115.2 1269.4 117.5 1271.8 C119.8 1274.2 122.1 1276.6 124.4 1279.0 C126.7 1281.5 129.0 1284.0 131.2 1286.5 C133.4 1288.9 135.7 1291.4 137.9 1294.0 C140.1 1296.5 142.3 1299.0 144.5 1301.6 C146.7 1304.1 148.9 1306.7 151.0 1309.2 C153.2 1311.8 155.4 1314.3 157.5 1316.9 C159.7 1319.5 161.9 1322.1 164.0 1324.6 C166.2 1327.2 168.4 1329.8 170.5 1332.4 C172.7 1335.0 174.9 1337.5 177.1 1340.1 C179.2 1342.7 181.4 1345.2 183.6 1347.8 C185.8 1350.3 188.0 1352.9 190.2 1355.4 C192.4 1358.0 194.7 1360.5 196.8 1363.1 C199.0 1365.6 201.2 1368.2 203.4 1370.8 C205.5 1373.3 207.7 1375.9 209.8 1378.5 C211.9 1381.1 214.0 1383.8 216.0 1386.4 C218.1 1389.1 220.1 1391.8 222.1 1394.5 C224.0 1397.2 225.9 1399.9 227.8 1402.7 C229.6 1405.5 231.4 1408.3 233.2 1411.2 C234.9 1414.1 237.3 1418.5 238.1 1420.0"/>
<path stroke="#6464ff" d="M72.5 1148.0 C75.2 1148.9 83.6 1151.6 89.0 1153.6 C94.4 1155.6 99.8 1157.8 105.0 1160.1 C110.3 1162.4 115.5 1164.9 120.7 1167.5 C125.8 1170.0 130.9 1172.8 135.9 1175.6 C140.9 1178.4 145.8 1181.4 150.7 1184.4 C155.6 1187.5 160.4 1190.6 165.1 1193.9 C169.9 1197.1 174.5 1200.5 179.2 1203.9 C183.8 1207.4 188.3 1210.9 192.8 1214.5 C197.3 1218.1 201.8 1221.8 206.2 1225.5 C210.6 1229.2 214.9 1233.0 219.3 1236.7 C223.7 1240.5 228.0 1244.3 232.4 1248.1 C236.7 1251.8 241.1 1255.6 245.5 1259.4 C249.8 1263.1 254.2 1266.8 258.6 1270.5 C263.0 1274.1 267.5 1277.8 271.9 1281.4 C276.3 1285.1 280.7 1288.7 285.1 1292.4 C289.5 1296.1 293.9 1299.8 298.3 1303.5 C302.7 1307.2 307.0 1311.0 311.3 1314.8 C315.6 1318.6 319.9 1322.5 324.1 1326.4 C328.3 1330.4 332.4 1334.4 336.5 1338.4 C340.6 1342.5 344.7 1346.7 348.6 1351.0 C352.6 1355.2 356.4 1359.5 360.2 1363.9 C364.0 1368.3 367.7 1372.8 371.3 1377.4 C374.9 1381.9 378.4 1386.5 381.8 1391.2 C385.2 1395.9 388.4 1400.6 391.6 1405.4 C394.7 1410.2 399.1 1417.6 400.6 1420.0"/>
<path stroke="#ff6464" d="M72.5 1286.1 C73.1 1286.9 75.1 1289.3 76.4 1290.9 C77.7 1292.5 78.9 1294.2 80.1 1295.8 C81.3 1297.5 82.5 1299.1 83.7 1300.8 C84.8 1302.4 86.0 1304.1 87.1 1305.8 C88.2 1307.5 89.3 1309.2 90.3 1310.9 C91.4 1312.6 92.5 1314.3 93.5 1316.1 C94.5 1317.8 95.5 1319.5 96.6 1321.3 C97.6 1323.0 98.5 1324.8 99.5 1326.5 C100.5 1328.3 101.4 1330.1 102.4 1331.9 C103.4 1333.6 104.3 1335.4 105.2 1337.2 C106.2 1339.0 107.1 1340.8 108.0 1342.6 C108.9 1344.4 109.8 1346.2 110.7 1348.0 C111.7 1349.8 112.6 1351.7 113.5 1353.5 C114.4 1355.3 115.3 1357.1 116.2 1359.0 C117.1 1360.8 118.0 1362.6 118.9 1364.5 C119.8 1366.3 120.7 1368.2 121.6 1370.0 C122.5 1371.8 123.4 1373.7 124.3 1375.5 C125.2 1377.4 126.1 1379.2 127.0 1381.1 C127.9 1383.0 128.8 1384.8 129.6 1386.7 C130.5 1388.5 131.4 1390.4 132.2 1392.2 C133.1 1394.1 133.9 1395.9 134.8 1397.8 C135.6 1399.7 136.5 1401.5 137.3 1403.4 C138.1 1405.2 138.9 1407.1 139.7 1408.9 C140.5 1410.8 141.3 1412.6 142.1 1414.5 C142.9 1416.3 144.0 1419.1 144.4 1420.0"/>
<path stroke="#ff6464" d="M72.5 1273.5 C73.4 1274.3 76.3 1276.6 78.1 1278.2 C79.9 1279.8 81.7 1281.5 83.4 1283.2 C85.1 1284.8 86.7 1286.6 88.3 1288.3 C89.9 1290.1 91.5 1291.9 93.0 1293.7 C94.5 1295.5 96.0 1297.4 97.4 1299.2 C98.9 1301.1 100.3 1303.0 101.7 1304.9 C103.0 1306.9 104.4 1308.8 105.7 1310.8 C107.0 1312.8 108.3 1314.8 109.6 1316.8 C110.9 1318.8 112.1 1320.8 113.4 1322.9 C114.6 1324.9 115.8 1327.0 117.0 1329.0 C118.2 1331.1 119.4 1333.2 120.6 1335.3 C121.8 1337.3 123.0 1339.4 124.2 1341.5 C125.4 1343.6 126.5 1345.7 127.7 1347.8 C128.9 1349.9 130.1 1352.1 131.3 1354.2 C132.5 1356.3 133.7 1358.4 134.9 1360.5 C136.1 1362.6 137.3 1364.7 138.6 1366.7 C139.8 1368.8 141.0 1370.9 142.3 1373.0 C143.6 1375.1 144.8 1377.1 146.1 1379.2 C147.4 1381.2 148.7 1383.3 150.0 1385.3 C151.3 1387.3 152.6 1389.4 153.9 1391.4 C155.3 1393.4 156.6 1395.4 158.0 1397.3 C159.4 1399.3 160.8 1401.3 162.2 1403.2 C163.6 1405.1 165.1 1407.0 166.5 1408.9 C168.0 1410.8 169.5 1412.7 171.0 1414.5 C172.5 1416.4 174.9 1419.1 175.6 1420.0"/>
<path stroke="#ff6464" d="M72.5 1252.6 C73.6 1253.5 76.8 1256.2 78.8 1258.1 C80.9 1259.9 82.8 1261.9 84.7 1263.8 C86.6 1265.8 88.3 1267.9 90.1 1269.9 C91.8 1272.0 93.5 1274.1 95.1 1276.2 C96.7 1278.4 98.3 1280.6 99.8 1282.8 C101.3 1285.0 102.8 1287.2 104.2 1289.4 C105.7 1291.7 107.1 1294.0 108.5 1296.3 C109.8 1298.5 111.2 1300.8 112.6 1303.1 C113.9 1305.4 115.2 1307.8 116.6 1310.1 C118.0 1312.4 119.3 1314.7 120.7 1317.0 C122.1 1319.3 123.5 1321.6 124.9 1323.9 C126.3 1326.2 127.8 1328.4 129.3 1330.7 C130.8 1332.9 132.4 1335.1 134.0 1337.3 C135.6 1339.5 137.3 1341.7 139.0 1343.9 C140.7 1346.0 142.4 1348.2 144.1 1350.3 C145.8 1352.5 147.6 1354.6 149.2 1356.8 C150.9 1358.9 152.6 1361.1 154.2 1363.2 C155.8 1365.4 157.3 1367.6 158.8 1369.8 C160.4 1372.0 161.8 1374.2 163.2 1376.4 C164.6 1378.7 165.9 1381.0 167.2 1383.3 C168.5 1385.6 169.8 1388.0 171.0 1390.4 C172.2 1392.7 173.4 1395.1 174.6 1397.6 C175.8 1400.0 176.9 1402.5 178.1 1404.9 C179.2 1407.4 180.3 1409.9 181.5 1412.4 C182.7 1414.9 184.4 1418.7 185.0 1420.0"/>
<path stroke="#ff6464" d="M72.5 1179.4 C74.1 1180.7 79.0 1184.6 82.1 1187.3 C85.2 1190.0 88.2 1192.8 91.1 1195.7 C94.1 1198.6 96.9 1201.6 99.6 1204.6 C102.4 1207.6 105.0 1210.6 107.7 1213.7 C110.3 1216.8 112.8 1220.0 115.4 1223.2 C117.9 1226.3 120.4 1229.6 122.9 1232.8 C125.4 1236.0 127.8 1239.3 130.3 1242.5 C132.8 1245.7 135.2 1249.0 137.7 1252.2 C140.2 1255.5 142.6 1258.7 145.2 1261.9 C147.7 1265.2 150.2 1268.4 152.7 1271.6 C155.3 1274.8 157.9 1278.0 160.5 1281.1 C163.1 1284.3 165.7 1287.5 168.3 1290.6 C170.9 1293.8 173.6 1296.9 176.3 1300.0 C178.9 1303.1 181.7 1306.2 184.4 1309.3 C187.1 1312.4 189.9 1315.5 192.6 1318.6 C195.3 1321.7 198.1 1324.7 200.8 1327.8 C203.6 1330.9 206.3 1334.0 209.0 1337.1 C211.7 1340.2 214.3 1343.3 217.0 1346.4 C219.6 1349.6 222.2 1352.8 224.7 1356.0 C227.2 1359.2 229.6 1362.4 232.0 1365.7 C234.4 1369.0 236.7 1372.4 238.9 1375.8 C241.1 1379.2 243.2 1382.6 245.2 1386.2 C247.3 1389.7 249.2 1393.3 250.9 1397.0 C252.7 1400.6 254.4 1404.4 255.9 1408.2 C257.4 1412.1 259.3 1418.0 260.0 1420.0"/>
<path stroke="#ff6464" d="M72.5 1168.9 C74.1 1170.3 79.1 1174.5 82.2 1177.4 C85.4 1180.3 88.4 1183.2 91.4 1186.2 C94.5 1189.2 97.4 1192.3 100.3 1195.4 C103.2 1198.4 106.0 1201.6 108.7 1204.7 C111.5 1207.9 114.2 1211.1 116.9 1214.3 C119.6 1217.6 122.2 1220.8 124.8 1224.1 C127.5 1227.4 130.0 1230.7 132.6 1234.1 C135.1 1237.4 137.7 1240.8 140.2 1244.1 C142.7 1247.5 145.2 1250.9 147.7 1254.2 C150.2 1257.6 152.7 1261.0 155.2 1264.4 C157.7 1267.8 160.2 1271.2 162.8 1274.6 C165.3 1278.0 167.8 1281.3 170.4 1284.7 C173.0 1288.1 175.5 1291.4 178.2 1294.8 C180.8 1298.1 183.4 1301.4 186.1 1304.7 C188.8 1308.0 191.6 1311.3 194.3 1314.6 C197.0 1317.9 199.8 1321.1 202.6 1324.4 C205.3 1327.7 208.1 1330.9 210.8 1334.2 C213.5 1337.5 216.2 1340.8 218.9 1344.1 C221.6 1347.4 224.2 1350.7 226.8 1354.1 C229.3 1357.5 231.9 1360.8 234.3 1364.3 C236.7 1367.7 239.1 1371.2 241.4 1374.7 C243.6 1378.2 245.8 1381.8 247.9 1385.4 C250.0 1389.1 252.0 1392.8 253.8 1396.5 C255.6 1400.3 257.3 1404.1 258.9 1408.0 C260.4 1411.9 262.4 1418.0 263.1 1420.0"/>
<path stroke="#ff6464" d="M72.5 1043.3 C75.9 1044.7 86.3 1048.7 93.1 1051.6 C99.9 1054.6 106.6 1057.7 113.1 1061.0 C119.7 1064.4 126.1 1067.9 132.5 1071.6 C138.8 1075.3 145.0 1079.1 151.1 1083.2 C157.2 1087.3 163.2 1091.5 169.0 1095.9 C174.8 1100.3 180.5 1104.9 186.1 1109.6 C191.6 1114.4 197.0 1119.3 202.3 1124.4 C207.6 1129.4 212.7 1134.7 217.7 1140.0 C222.7 1145.3 227.6 1150.8 232.6 1156.3 C237.5 1161.8 242.3 1167.3 247.2 1172.8 C252.1 1178.3 257.0 1183.8 262.0 1189.2 C267.0 1194.6 272.0 1200.0 277.2 1205.2 C282.4 1210.4 287.7 1215.5 293.1 1220.5 C298.4 1225.4 304.0 1230.3 309.5 1235.1 C315.0 1240.0 320.6 1244.7 326.2 1249.5 C331.8 1254.3 337.4 1259.1 342.9 1264.0 C348.4 1268.8 354.0 1273.7 359.3 1278.7 C364.7 1283.7 370.0 1288.8 375.1 1294.0 C380.2 1299.3 385.2 1304.6 390.0 1310.2 C394.9 1315.7 399.5 1321.3 404.1 1327.1 C408.7 1332.8 413.1 1338.7 417.4 1344.7 C421.7 1350.6 425.8 1356.7 429.9 1362.9 C433.9 1369.0 437.8 1375.2 441.6 1381.5 C445.4 1387.8 449.1 1394.2 452.7 1400.6 C456.3 1407.0 461.4 1416.8 463.1 1420.0"/>
</g>
<g fill="none" stroke="#707070" stroke-width="0.9">
<path d="M128.75 1408 L202.25 1336.4 H237.5"/>
<path d="M126.9 1380 L198.1 1310.6 H232.5"/>
<path d="M117.5 1347.5 L186.5 1280.5 H219.75"/>
<path d="M114.4 1305.9 L170 1251.6 H203.5"/>
<path d="M149 1409.4 L260.25 1340.6 H302.5"/>
<path d="M176.9 1418 L281.25 1360.3 H325.5"/>
<path d="M123.75 1277.25 L193.75 1208 H227.5"/>
<path d="M135.5 1235.5 L190 1182.75 H223.25"/>
<path d="M78.1 1248.1 L151.25 1176.75 H185"/>
<path d="M78.75 1185.5 L118 1147.5 H151.25"/>
<path d="M317.5 1317.5 L402.5 1235.5 H435.75"/>
<path d="M331.75 1253.75 L370 1216.5 H403.75"/>
</g>
<g font-size="16" font-weight="400" fill="#333" text-anchor="middle" style="font-family:'Liberation Sans','Noto Sans CJK KR',sans-serif">
<text x="217.1" y="1328.4">①</text>
<text x="212.1" y="1302.4">②</text>
<text x="199.4" y="1272.8">③</text>
<text x="182.9" y="1243.4">④</text>
<text x="283.9" y="1334.8">⑤</text>
<text x="313" y="1352.9">⑥</text>
<text x="207" y="1200.9">⑦</text>
<text x="204.5" y="1177.9">⑧</text>
<text x="167.5" y="1170.9">⑨</text>
<text x="137.5" y="1142.2">⑩</text>
<text x="420.75" y="1227.2">⑪</text>
<text x="385" y="1208.4">⑫</text>
<text x="406.25" y="1044.7">①</text>
<text x="457.5" y="1044.7">②</text>
<text x="406.25" y="1066.4">③</text>
<text x="457.5" y="1066.4">④</text>
<text x="406.25" y="1088.9">⑤</text>
<text x="457.5" y="1088.9">⑥</text>
<text x="406.25" y="1110.4">⑦</text>
<text x="457.5" y="1110.4">⑧</text>
<text x="406.25" y="1132.9">⑨</text>
<text x="457.5" y="1132.9">⑩</text>
<text x="406.25" y="1155.9">⑪</text>
<text x="457.5" y="1155.9">⑫</text>
</g>
<g font-size="17" fill="#333" letter-spacing="0.6">
<text x="291" y="1045">DTV-200</text>
<text x="291" y="1067">DTV-260</text>
<text x="291" y="1089">DTV-260DU</text>
<text x="291" y="1111">DTV-300</text>
<text x="291" y="1133">DTV-300DU</text>
<text x="291" y="1153">DTV-350</text>
<text x="387.5" y="1023" font-size="17.5" letter-spacing="0">50Hz</text><text x="439.5" y="1023" font-size="17.5" letter-spacing="0">60Hz</text>
</g>
<g font-size="16" fill="#333" letter-spacing="0.7">
<text x="66.7" y="1384.0" text-anchor="end">10</text>
<text x="66.7" y="1342.1" text-anchor="end">20</text>
<text x="66.7" y="1300.2" text-anchor="end">30</text>
<text x="66.7" y="1258.4" text-anchor="end">40</text>
<text x="66.7" y="1216.5" text-anchor="end">50</text>
<text x="66.7" y="1174.7" text-anchor="end">60</text>
<text x="66.7" y="1132.8" text-anchor="end">70</text>
<text x="66.7" y="1091.0" text-anchor="end">80</text>
<text x="66.7" y="1049.1" text-anchor="end">90</text>
<text x="72.8" y="1440" text-anchor="middle">0</text>
<text x="104.1" y="1440" text-anchor="middle">10</text>
<text x="135.3" y="1440" text-anchor="middle">20</text>
<text x="166.6" y="1440" text-anchor="middle">30</text>
<text x="197.8" y="1440" text-anchor="middle">40</text>
<text x="229.1" y="1440" text-anchor="middle">50</text>
<text x="260.4" y="1440" text-anchor="middle">60</text>
<text x="291.6" y="1440" text-anchor="middle">70</text>
<text x="322.9" y="1440" text-anchor="middle">80</text>
<text x="354.1" y="1440" text-anchor="middle">90</text>
<text x="385.4" y="1440" text-anchor="middle">100</text>
<text x="416.6" y="1440" text-anchor="middle">110</text>
<text x="447.9" y="1440" text-anchor="middle">120</text>
<text x="402.5" y="1456.8" font-size="17.5" textLength="72" lengthAdjust="spacingAndGlyphs">[m³/min]</text>
<text transform="translate(44,1075) rotate(-90)" font-size="17.5" textLength="67.5" lengthAdjust="spacingAndGlyphs">[mmAq]</text>
</g>
</svg>
<div class="dt">
<div class="abs" style="left:500.5px;top:997.3px;width:6.7px;height:6.7px;background:#ccffff"></div>
<div class="abs" style="left:500.5px;top:1004px;width:6.7px;height:13.5px;background:#99ccff"></div>
<div class="abs" style="left:513px;top:998.6px;height:22px;line-height:22px;font-size:18.4px;font-weight:bold;color:#111;white-space:nowrap">Dimension</div>
<div class="abs" style="left:936px;top:1004px;width:44px;text-align:right;height:14px;line-height:14px;font-size:12px;font-weight:bold;color:#111;white-space:nowrap">(mm)</div>
<div class="abs" style="left:500.5px;top:1023.75px;width:483.5px;height:30.75px;background:#969696"></div>
<div class="abs" style="left:500.5px;top:1086.25px;width:483.5px;height:30.75px;background:#ccffff"></div>
<div class="abs" style="left:500.5px;top:1148.75px;width:483.5px;height:30.75px;background:#ccffff"></div>
<div class="abs" style="left:500.5px;top:1207.5px;width:481.0px;height:31.25px;background:#ccffff"></div>
<div class="c h" style="left:488.25px;top:1033.10px;width:100px">Model</div>
<div class="c h" style="left:551.75px;top:1033.10px;width:100px">A</div>
<div class="c h" style="left:603.75px;top:1033.10px;width:100px">B</div>
<div class="c h" style="left:661.25px;top:1033.10px;width:100px">C</div>
<div class="c h" style="left:719.0px;top:1033.10px;width:100px">D</div>
<div class="c h" style="left:770.0px;top:1033.10px;width:100px">E</div>
<div class="c h" style="left:818.0px;top:1033.10px;width:100px">F</div>
<div class="c h" style="left:865.0px;top:1033.10px;width:100px">G</div>
<div class="c h" style="left:911.0px;top:1033.10px;width:100px">H</div>
<div class="c " style="left:488.25px;top:1064.40px;width:100px">DTV-200</div>
<div class="c " style="left:551.75px;top:1064.40px;width:100px">308</div>
<div class="c " style="left:603.75px;top:1064.40px;width:100px">Ø300</div>
<div class="c " style="left:661.25px;top:1064.40px;width:100px">Ø209</div>
<div class="c " style="left:719.0px;top:1064.40px;width:100px">Ø225</div>
<div class="c " style="left:770.0px;top:1064.40px;width:100px">170</div>
<div class="c " style="left:818.0px;top:1064.40px;width:100px">200</div>
<div class="c " style="left:865.0px;top:1064.40px;width:100px">159</div>
<div class="c " style="left:911.0px;top:1064.40px;width:100px">309</div>
<div class="c " style="left:488.25px;top:1095.40px;width:100px">DTV-260</div>
<div class="c " style="left:551.75px;top:1095.40px;width:100px">316</div>
<div class="c " style="left:603.75px;top:1095.40px;width:100px">Ø360</div>
<div class="c " style="left:661.25px;top:1095.40px;width:100px">Ø260</div>
<div class="c " style="left:719.0px;top:1095.40px;width:100px">Ø274</div>
<div class="c " style="left:770.0px;top:1095.40px;width:100px">220</div>
<div class="c " style="left:818.0px;top:1095.40px;width:100px">240</div>
<div class="c " style="left:865.0px;top:1095.40px;width:100px">197</div>
<div class="c " style="left:911.0px;top:1095.40px;width:100px">376</div>
<div class="c " style="left:488.25px;top:1126.90px;width:100px">DTV-260DU</div>
<div class="c " style="left:551.75px;top:1126.90px;width:100px">307.7</div>
<div class="c " style="left:603.75px;top:1126.90px;width:100px">Ø334</div>
<div class="c " style="left:661.25px;top:1126.90px;width:100px">Ø234</div>
<div class="c " style="left:719.0px;top:1126.90px;width:100px">Ø248</div>
<div class="c " style="left:770.0px;top:1126.90px;width:100px">170</div>
<div class="c " style="left:818.0px;top:1126.90px;width:100px">200</div>
<div class="c " style="left:865.0px;top:1126.90px;width:100px">175</div>
<div class="c " style="left:911.0px;top:1126.90px;width:100px">333.4</div>
<div class="c " style="left:488.25px;top:1158.15px;width:100px">DTV-300</div>
<div class="c " style="left:551.75px;top:1158.15px;width:100px">335</div>
<div class="c " style="left:603.75px;top:1158.15px;width:100px">Ø400</div>
<div class="c " style="left:661.25px;top:1158.15px;width:100px">Ø300</div>
<div class="c " style="left:719.0px;top:1158.15px;width:100px">Ø314</div>
<div class="c " style="left:770.0px;top:1158.15px;width:100px">220</div>
<div class="c " style="left:818.0px;top:1158.15px;width:100px">240</div>
<div class="c " style="left:865.0px;top:1158.15px;width:100px">218</div>
<div class="c " style="left:911.0px;top:1158.15px;width:100px">417</div>
<div class="c " style="left:488.25px;top:1187.90px;width:100px">DTV-300DU</div>
<div class="c " style="left:551.75px;top:1187.90px;width:100px">327</div>
<div class="c " style="left:603.75px;top:1187.90px;width:100px">Ø385</div>
<div class="c " style="left:661.25px;top:1187.90px;width:100px">Ø284</div>
<div class="c " style="left:719.0px;top:1187.90px;width:100px">Ø296</div>
<div class="c " style="left:770.0px;top:1187.90px;width:100px">220</div>
<div class="c " style="left:818.0px;top:1187.90px;width:100px">240</div>
<div class="c " style="left:865.0px;top:1187.90px;width:100px">210</div>
<div class="c " style="left:911.0px;top:1187.90px;width:100px">402.5</div>
<div class="c " style="left:488.25px;top:1218.65px;width:100px">DTV-350</div>
<div class="c " style="left:551.75px;top:1218.65px;width:100px">352</div>
<div class="c " style="left:603.75px;top:1218.65px;width:100px">Ø440</div>
<div class="c " style="left:661.25px;top:1218.65px;width:100px">Ø330</div>
<div class="c " style="left:719.0px;top:1218.65px;width:100px">Ø346</div>
<div class="c " style="left:770.0px;top:1218.65px;width:100px">220</div>
<div class="c " style="left:818.0px;top:1218.65px;width:100px">240</div>
<div class="c " style="left:865.0px;top:1218.65px;width:100px">235</div>
<div class="c " style="left:911.0px;top:1218.65px;width:100px">455</div>
</div>
<div class="abs" style="left:18px;top:1475.5px;height:20px;line-height:20px;font-size:13.6px;font-weight:bold;color:#ff0000;white-space:nowrap;letter-spacing:1.4px;word-spacing:0px" id="ft1">◈ 본 제품의 사양은 품질개선을 위하여 예고없이 변경되는 경우가 있습니다.</div>
<div class="abs" style="left:841px;top:1475.5px;height:20px;line-height:20px;font-size:13.8px;font-weight:bold;color:#ff0000;white-space:nowrap;letter-spacing:0.85px" id="ft2">작성일 : 2019년 8월</div>

</div>
</body></html>
